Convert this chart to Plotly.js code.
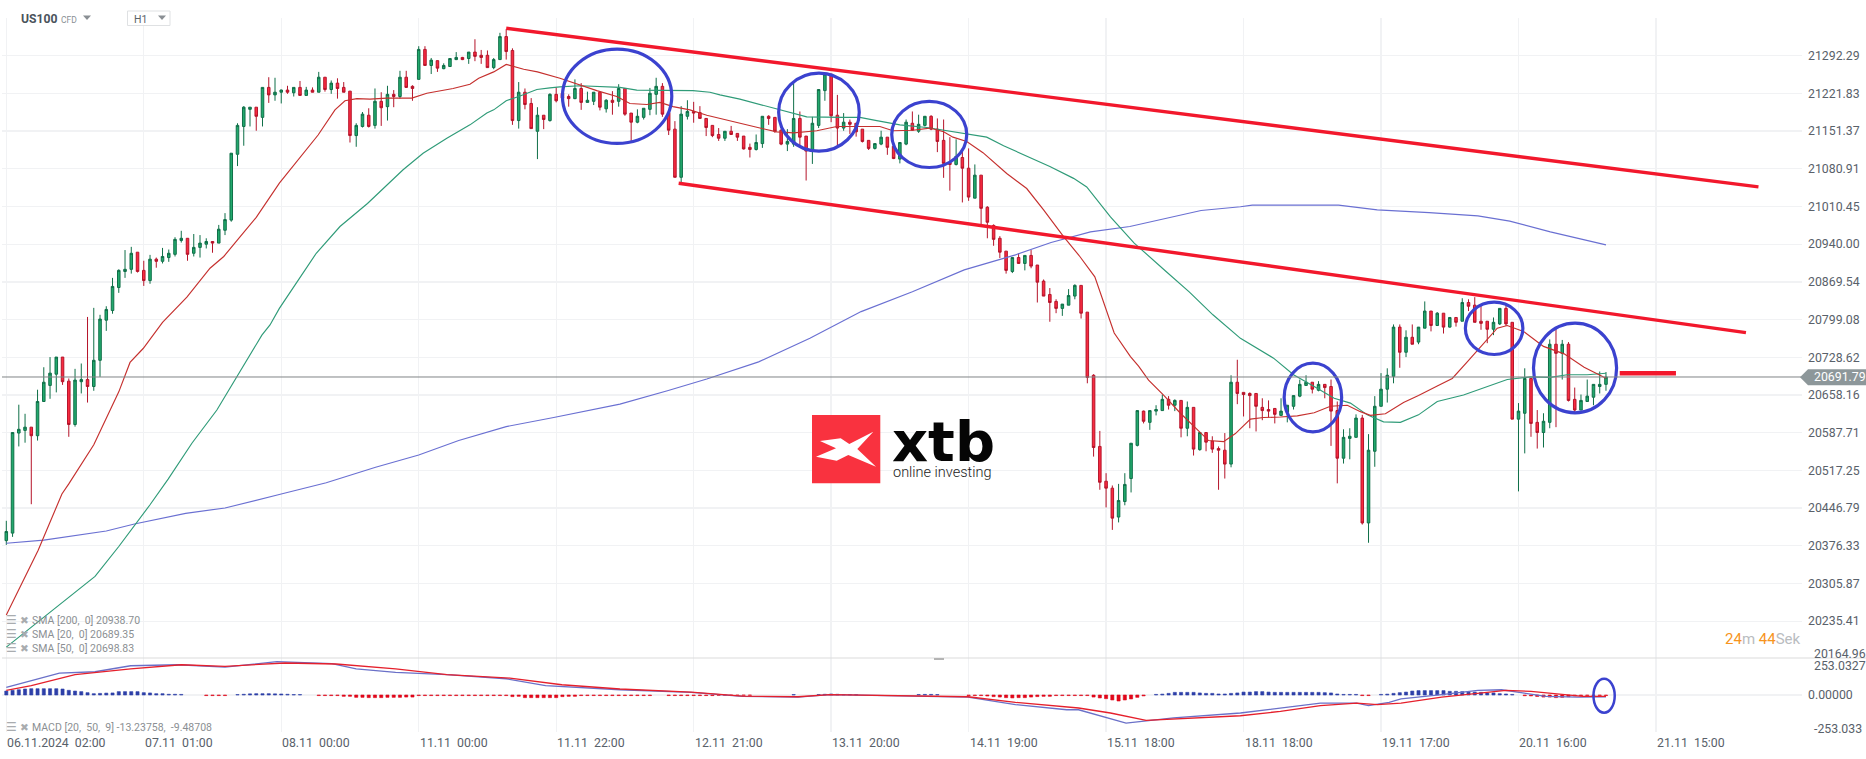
<!DOCTYPE html>
<html><head><meta charset="utf-8">
<script src="https://cdn.plot.ly/plotly-3.0.1.min.js"></script>
<style>html,body{margin:0;padding:0;background:#fff;overflow:hidden}#c{width:1866px;height:759px}</style>
</head><body><div id="c"></div>
<script>
const opens=[20386,20400,20587,20592,20598,20582,20646,20676,20697,20729,
20684,20603,20683,20687,20674,20723,20798,20816,20859,20889,
20893,20925,20891,20872,20912,20908,20915,20921,20947,20951,
20923,20934,20940,20945,20942,20966,20985,21108,21160,21192,
21196,21177,21233,21219,21224,21228,21223,21233,21218,21228,
21224,21252,21229,21241,21233,21226,21143,21160,21181,21162,
21207,21197,21220,21216,21252,21235,21248,21304,21274,21283,
21268,21272,21285,21289,21287,21299,21293,21293,21270,21285,
21328,21302,21171,21224,21203,21151,21181,21171,21220,21222,
21216,21212,21231,21205,21207,21224,21193,21209,21207,21231,
21185,21168,21177,21192,21220,21235,21186,21155,21065,21179,
21188,21186,21175,21162,21145,21138,21151,21147,21142,21121,
21117,21128,21179,21177,21153,21127,21127,21175,21142,21114,
21162,21227,21258,21181,21157,21168,21166,21155,21134,21119,
21127,21140,21123,21099,21127,21166,21151,21162,21179,21155,
21134,21092,21089,21102,21082,21026,21069,21009,20975,20951,
20927,20889,20915,20904,20919,20901,20871,20846,20833,20820,
20826,20843,20863,20813,20695,20562,20497,20484,20430,20459,
20502,20564,20628,20607,20628,20629,20650,20639,20648,20596,
20635,20556,20588,20572,20558,20555,20529,20682,20663,20661,
20661,20635,20631,20633,20620,20626,20637,20656,20676,20682,
20667,20678,20674,20629,20540,20577,20579,20615,20419,20553,
20637,20669,20693,20785,20738,20766,20757,20783,20815,20788,
20811,20785,20803,20796,20831,20826,20796,20796,20781,20791,
20820,20794,20613,20624,20689,20607,20588,20607,20753,20736,
20753,20650,20630,20646,20654,20674,20678];
const highs=[20423,20588,20640,20623,20598,20668,20710,20729,20729,20729,
20689,20707,20717,20804,20821,20808,20824,20877,20893,20929,
20935,20925,20909,20920,20915,20933,20930,20953,20965,20951,
20959,20957,20951,20945,20976,20998,21110,21166,21198,21196,
21196,21233,21252,21251,21229,21236,21233,21245,21234,21233,
21262,21252,21246,21250,21243,21226,21166,21187,21194,21231,
21224,21236,21228,21264,21264,21237,21310,21310,21288,21283,
21278,21287,21299,21290,21299,21323,21303,21302,21288,21335,
21342,21306,21243,21231,21213,21196,21181,21222,21233,21222,
21220,21248,21241,21225,21224,21224,21211,21226,21239,21231,
21185,21192,21194,21232,21251,21241,21186,21170,21198,21209,
21206,21198,21175,21162,21157,21151,21161,21147,21142,21128,
21145,21179,21181,21177,21155,21155,21243,21188,21142,21178,
21229,21258,21258,21219,21185,21173,21166,21155,21134,21128,
21152,21140,21123,21130,21173,21188,21182,21179,21181,21175,
21173,21140,21136,21119,21119,21089,21069,21011,20977,20955,
20927,20915,20923,20919,20929,20901,20874,20858,20837,20828,
20856,20865,20863,20813,20697,20591,20512,20489,20492,20512,
20568,20629,20629,20629,20639,20659,20656,20650,20648,20646,
20635,20588,20588,20581,20562,20587,20695,20724,20663,20663,
20661,20652,20648,20633,20652,20639,20657,20687,20695,20682,
20684,20678,20687,20646,20594,20596,20622,20621,20585,20656,
20699,20708,20790,20790,20779,20790,20785,20833,20815,20813,
20811,20803,20803,20839,20837,20841,20826,20796,20803,20820,
20826,20794,20643,20708,20689,20630,20624,20762,20781,20761,
20757,20672,20659,20687,20678,20702,20701];
const lows=[20378,20393,20562,20569,20454,20573,20646,20651,20663,20677,
20580,20599,20661,20644,20666,20692,20778,20810,20849,20877,
20885,20887,20862,20866,20896,20904,20907,20917,20943,20909,
20917,20915,20932,20924,20942,20957,20982,21086,21124,21160,
21152,21160,21204,21208,21203,21221,21216,21218,21218,21224,
21224,21225,21221,21212,21224,21130,21122,21158,21158,21156,
21161,21171,21196,21212,21232,21208,21248,21274,21258,21262,
21267,21272,21284,21284,21277,21282,21277,21270,21267,21285,
21285,21163,21156,21192,21156,21099,21155,21169,21205,21213,
21197,21211,21191,21205,21200,21190,21186,21182,21197,21180,
21130,21166,21173,21181,21182,21178,21144,21065,21056,21173,
21167,21175,21142,21140,21133,21133,21144,21133,21117,21102,
21115,21120,21163,21148,21125,21114,21122,21121,21059,21090,
21157,21208,21168,21124,21152,21146,21141,21130,21116,21117,
21125,21107,21099,21091,21125,21152,21148,21160,21153,21112,
21064,21040,21087,21018,21021,21026,20977,20951,20937,20914,
20885,20886,20903,20891,20895,20831,20843,20795,20811,20806,
20826,20837,20801,20680,20543,20481,20448,20406,20420,20452,
20476,20562,20605,20593,20620,20629,20631,20628,20579,20581,
20545,20554,20553,20550,20481,20502,20523,20641,20618,20596,
20590,20611,20616,20605,20620,20607,20631,20654,20676,20661,
20665,20652,20563,20493,20530,20538,20579,20416,20382,20524,
20637,20644,20680,20709,20729,20753,20753,20783,20777,20787,
20773,20784,20786,20796,20815,20794,20780,20755,20770,20789,
20787,20613,20478,20549,20580,20558,20560,20596,20598,20687,
20646,20624,20630,20646,20639,20661,20666];
const closes=[20403,20588,20594,20598,20582,20646,20682,20699,20729,20683,
20603,20686,20687,20674,20723,20800,20818,20861,20891,20893,
20923,20889,20872,20912,20908,20917,20923,20949,20951,20921,
20934,20942,20945,20942,20968,20986,21110,21162,21196,21196,
21179,21233,21219,21224,21228,21224,21233,21218,21228,21224,
21252,21229,21241,21231,21224,21143,21162,21183,21160,21207,
21195,21220,21216,21252,21233,21231,21304,21274,21284,21269,
21274,21287,21289,21285,21299,21291,21289,21270,21285,21328,
21300,21171,21224,21201,21156,21181,21173,21220,21208,21213,
21212,21231,21205,21209,21224,21196,21209,21205,21231,21183,
21168,21179,21194,21222,21235,21183,21153,21065,21183,21188,
21185,21175,21158,21143,21138,21151,21145,21140,21118,21117,
21130,21179,21175,21151,21127,21132,21175,21140,21114,21166,
21229,21258,21180,21157,21168,21164,21150,21132,21119,21128,
21140,21121,21100,21130,21168,21153,21164,21179,21155,21132,
21091,21089,21104,21082,21028,21069,21007,20981,20949,20925,
20891,20915,20904,20919,20899,20869,20843,20831,20820,20828,
20844,20863,20811,20691,20560,20495,20484,20428,20461,20491,
20568,20629,20609,20629,20631,20650,20639,20648,20596,20635,
20557,20588,20570,20557,20555,20529,20682,20661,20659,20657,
20637,20629,20628,20622,20628,20639,20657,20678,20682,20669,
20678,20672,20628,20540,20579,20581,20615,20419,20555,20637,
20669,20695,20785,20738,20766,20753,20785,20815,20788,20811,
20785,20803,20794,20831,20824,20794,20792,20781,20794,20820,
20791,20613,20628,20689,20605,20588,20609,20753,20736,20753,
20648,20630,20648,20656,20678,20678,20691.79];

const sma20Idx=[0,5.1,8.9,10,14,18,19.8,21.9,25,28.9,32.6,34.8,37,40,43.7,45.4,47.5,49.9,52.6,54.2,56.1,58.2,60.9,64.9,67.3,69.4,71.5,74.2,75.6,78,80,82.8,85,88.6,91.8,94.5,97.7,99.8,102.5,104.6,106.7,109.4,112.1,115.3,118,120.6,123.3,126,129.7,132.9,135.5,139.8,141.9,145.1,147.8,150,151.5,153.7,156.3,160.1,163.3,166,169.2,171.8,174.2,177.3,179.9,181.2,182.8,185.2,187.9,190.6,192.4,194.8,196.7,199.1,201.2,203.9,206.6,209.3,211.9,214.6,216.7,218.3,220.7,223.6,226,229,231.4,233.8,236.4,238.6,240.2,242.8,246,249.3,252.5,255.4,256];
const sma20Val=[20247,20368,20473,20492,20565,20664,20719,20745,20794,20841,20895,20917,20948,20990,21054,21079,21110,21144,21191,21208,21212,21211,21213,21213,21222,21227,21231,21239,21250,21262,21276,21267,21262,21250,21237,21227,21216,21203,21201,21205,21197,21191,21181,21172,21163,21157,21150,21148,21152,21160,21160,21160,21152,21153,21157,21150,21140,21132,21111,21072,21044,21004,20954,20917,20879,20774,20730,20712,20686,20658,20624,20593,20573,20571,20586,20613,20616,20617,20619,20625,20637,20639,20627,20620,20623,20644,20657,20675,20689,20720,20755,20783,20788,20777,20749,20735,20710,20694,20689.35];
const sma50Idx=[0,10,14.2,18,23,25.9,29.7,33.7,36.9,39,40.9,42.2,43.7,49.6,53.4,57.8,62.3,63.5,66.7,70.5,74.2,76.9,78,80,82,84.9,87,88.6,91.8,98.2,100.9,105.1,109.9,112.6,114.2,117.4,120.6,124.4,128.1,133.9,136.6,139.3,143,147.3,151.5,156.9,159.6,163.3,167,170.8,172.9,176.7,180.5,185.6,189.3,193.1,197.5,202.8,206,209.3,212.5,215.1,217.8,220.4,223.1,226,229,233.2,236.4,240.2,243.9,247.1,249.8,253,256];
const sma50Val=[20187,20279,20319,20375,20453,20501,20568,20630,20692,20733,20770,20789,20820,20923,20973,21016,21066,21079,21110,21138,21163,21185,21191,21208,21216,21229,21232,21234,21236,21233,21228,21227,21227,21224,21219,21211,21201,21189,21178,21177,21177,21171,21163,21158,21150,21140,21124,21105,21085,21063,21047,20991,20942,20889,20851,20808,20764,20727,20696,20674,20652,20643,20621,20608,20607,20621,20646,20658,20671,20687,20692,20691,20696,20696,20698.83];
const sma200Idx=[0,6,16,20.5,28.7,35,44,51.2,59.1,66,72.4,80,87.6,98.2,105.8,112.1,120.4,128.6,136.8,145,153.3,161.5,167.2,173.5,179.8,186.8,191.2,197.5,199.4,213.2,219.4,227.7,235.5,240.6,247.1,256];
const sma200Val=[20381,20387,20404,20417,20437,20447,20473,20494,20523,20546,20573,20599,20616,20641,20666,20688,20720,20764,20814,20851,20892,20920,20943,20963,20973,20991,21003,21010,21013,21013,21004,20999,20993,20983,20963,20938.7];

const macdIdx=[0,4,8.5,14.2,19.9,27.5,35,43.3,52.1,56,62.3,70.5,80,86.3,98.2,109.6,117.8,126.7,131.8,153.9,161.5,169.7,171.6,179.2,186.8,197.5,203.9,210.3,216.1,218,221.3,223.2,229.7,235.5,239.3,242.6,246.4,251.5,256];
const macdVal=[52,100,150,159,200,207,191,228,214,178,155,139,111,64,36,18,-10,-14,2,-14,-66,-101,-101,-192,-157,-123,-89,-55,-55,-73,-50,-27,2,31,36,14,-10,-14,-13.24];
const signalIdx=[0,4,11,19.9,28,35,44.6,52.8,62.3,70.5,80.6,88.9,98.2,109.6,117.8,126.7,131.8,153.9,161.5,171.6,176.7,182.4,197.5,203.9,210.3,216.1,219.4,223.2,229.7,235.5,240,244,249,252.3,256];
const signalVal=[31,64,139,178,207,196,219,212,178,139,116,70,41,20,-8,-12,3,-12,-50,-89,-123,-174,-142,-112,-73,-55,-66,-55,-14,14,31,25,2,-10,-9.49];
const histVal=[27,32,36,41,43,43,43,43,43,41,
32,27,23,16,9,11,13,14,23,23,
23,23,16,14,9,9,5,5,4,0,
0,0,-4,-4,-4,-4,0,3,5,8,
9,9,9,8,7,5,3,3,0,0,
-4,-4,-4,-4,-9,-9,-16,-16,-18,-18,
-18,-16,-16,-16,-14,-14,-4,-4,-4,-4,
-4,-4,-4,-4,-4,-4,-4,-4,-4,-4,
-4,-11,-9,-18,-18,-18,-18,-18,-18,-11,
-9,-9,-4,-4,-4,-4,-4,-4,-4,-4,
-4,-4,-4,-4,0,0,-4,-4,-4,-4,
-4,-4,-4,-4,-2,-2,-2,-2,-2,-2,
0,0,0,0,0,0,3,0,0,0,
3,5,7,5,3,3,2,0,0,0,
0,0,0,0,0,0,3,4,4,3,
0,0,0,0,-4,-4,-4,-7,-11,-14,
-18,-20,-18,-18,-14,-11,-9,-9,-4,-4,
-4,-4,-4,-4,-14,-20,-25,-34,-41,-34,
-27,-16,-6,0,4,6,11,18,18,18,
18,14,11,11,7,7,11,14,20,20,
23,23,20,18,18,18,18,18,18,18,
18,16,14,7,4,4,4,-4,-4,0,
4,6,11,16,20,27,30,30,30,30,
30,25,25,23,20,20,18,14,14,9,
7,4,0,-5,-6,-10,-14,-14,-18,-16,
-12,-6,-5,-3,-3,-3,-4];

const priceTicks=[21292.29,21221.83,21151.37,21080.91,21010.45,20940.00,20869.54,20799.08,20728.62,20658.16,20587.71,20517.25,20446.79,20376.33,20305.87,20235.41];
const timeTickIdx=[0,22,44,66,88,110,132,154,176,198,220,242,264];
const timeTickText=["06.11.2024  02:00","07.11  01:00","08.11  00:00","11.11  00:00","11.11  22:00","12.11  21:00","13.11  20:00","14.11  19:00","15.11  18:00","18.11  18:00","19.11  17:00","20.11  16:00","21.11  15:00"];
const lastPrice=20691.79;
const upperChannelIdx=[80,280.4], upperChannelVal=[21343.5,21047];
const lowerChannelIdx=[107.6,278.4], lowerChannelVal=[21053.8,20774.6];
const flatLevelIdx=[258.2,267.2], flatLevelVal=[20698.7,20698.7];
const circleIdx0=[89,123.6,141.7,204.5,233.5,244.4], circleIdx1=[106.5,136.5,153.7,213.7,242.7,257.7];
const circleLow=[21128.2,21113.8,21083.3,20589.3,20733.8,20624.9], circleHigh=[21304.4,21259.6,21206.7,20717.6,20831.6,20792.3];
const legendLines=[["SMA [200,  0] 20938.70",620.7],["SMA [20,  0] 20689.35",634.7],["SMA [50,  0] 20698.83",648.7],["MACD [20,  50,  9] -13.23758,  -9.48708",727.7]];

const W=1866,H=759;
const FONT='Roboto,sans-serif';
const px=x=>x/W, py=y=>1-y/H;
const idx=opens.map((_,i)=>i);
const xRange=[-0.688,287.37];
const nb=s=>s.replace(/ /g,'\u00a0');
const GRID='#f1f2f4', AXC='#59616a';

const lineTrace=(x,y,color,width,xa,ya)=>({type:'scatter',mode:'lines',x,y,xaxis:xa||'x',yaxis:ya||'y',hoverinfo:'skip',line:{color,width,shape:'linear'}});
const histColor=v=>v>=0?'#2d3fa8':'#e0061a';

const traces=[
 {type:'candlestick',x:idx,open:opens,high:highs,low:lows,close:closes,xaxis:'x',yaxis:'y',hoverinfo:'skip',whiskerwidth:0,
  increasing:{line:{color:'#0f6f48',width:1},fillcolor:'#22a96d'},
  decreasing:{line:{color:'#b5142a',width:1},fillcolor:'#f92b40'}},
 lineTrace(sma200Idx,sma200Val,'#6a70d2',1.15),
 lineTrace(sma50Idx,sma50Val,'#2f9b78',1.15),
 lineTrace(sma20Idx,sma20Val,'#c5302e',1.15),
 lineTrace(upperChannelIdx,upperChannelVal,'#f2182c',3.4),
 lineTrace(lowerChannelIdx,lowerChannelVal,'#f2182c',3.4),
 lineTrace(flatLevelIdx,flatLevelVal,'#f2182c',4.5),
 {type:'bar',x:idx,y:histVal.map(v=>v===0?null:v),xaxis:'x2',yaxis:'y2',width:0.5,hoverinfo:'skip',
  marker:{color:histVal.map(histColor),line:{color:histVal.map(histColor),width:0.6}}},
 lineTrace(macdIdx,macdVal,'#6a70c8',1.3,'x2','y2'),
 lineTrace(signalIdx,signalVal,'#e5202c',1.3,'x2','y2')
];

const poly=pts=>'M'+pts.map(p=>px(p[0])+','+py(p[1])).join(' L')+' Z';
const shapes=[];
circleIdx0.forEach((_,k)=>shapes.push({type:'circle',xref:'x',yref:'y',x0:circleIdx0[k],x1:circleIdx1[k],y0:circleLow[k],y1:circleHigh[k],line:{color:'#3b42cf',width:3.2},layer:'above'}));
shapes.push({type:'circle',xref:'x2',yref:'y2',x0:254,x1:257.4,y0:-121,y1:110.8,line:{color:'#3b42cf',width:2.5},layer:'above'});
// current price line + tag
shapes.push({type:'line',xref:'paper',yref:'y',x0:px(2),x1:px(1802),y0:lastPrice,y1:lastPrice,line:{color:'#808487',width:1},layer:'above'});
shapes.push({type:'path',xref:'paper',yref:'paper',path:poly([[1800,377.3],[1808,369.3],[1866,369.3],[1866,385.3],[1808,385.3]]),fillcolor:'#8d979a',line:{width:0},layer:'above'});
// pane divider and handle
shapes.push({type:'line',xref:'paper',yref:'paper',x0:px(2),x1:1,y0:py(658),y1:py(658),line:{color:'#dcdcdc',width:1.2}});
shapes.push({type:'rect',xref:'paper',yref:'paper',x0:px(934),x1:px(944),y0:py(660),y1:py(658),fillcolor:'#b4b4b4',line:{width:0}});
// instrument selector box and dropdown triangles
shapes.push({type:'rect',xref:'paper',yref:'paper',x0:px(127.5),x1:px(170),y0:py(25.5),y1:py(11),fillcolor:'#ffffff',line:{color:'#dfe1e3',width:1}});
shapes.push({type:'path',xref:'paper',yref:'paper',path:poly([[83,15.5],[91,15.5],[87,20]]),fillcolor:'#8a8f94',line:{width:0}});
shapes.push({type:'path',xref:'paper',yref:'paper',path:poly([[158,15.5],[166,15.5],[162,20]]),fillcolor:'#8a8f94',line:{width:0}});
// XTB logo mark
shapes.push({type:'rect',xref:'paper',yref:'paper',x0:px(812),x1:px(880.3),y0:py(483.3),y1:py(415),fillcolor:'#f9323f',line:{width:0},layer:'above'});
shapes.push({type:'path',xref:'paper',yref:'paper',path:poly([[820,441],[840.7,438.3],[849.3,444],[873.3,431.7],[857.3,449],[876,466.7],[848.3,455],[836.7,460.7],[816,456.7],[836,448.3]]),fillcolor:'#ffffff',line:{width:0},layer:'above'});

const anno=(x,y,text,o={})=>Object.assign({xref:'paper',yref:'paper',x:px(x),y:py(y),text,showarrow:false,xanchor:'left',yanchor:'middle',borderpad:0,captureevents:false,
  font:{family:FONT,size:12.3,color:AXC}},o);
const annotations=[];
timeTickIdx.forEach((t,k)=>annotations.push(anno(0,742.7,nb(timeTickText[k]),{xref:'x2',x:t})));
annotations.push(anno(1813,654.3,'20164.96'));
annotations.push(anno(1813,666,'253.0327'));
annotations.push(anno(1813,729,'-253.033'));
annotations.push(anno(1813,377.3,lastPrice.toFixed(2),{font:{family:FONT,size:12.3,color:'#ffffff'}}));
legendLines.forEach(l=>{
  annotations.push(anno(31,l[1],nb(l[0]),{font:{family:FONT,size:10.5,color:'#8b8f93'}}));
  annotations.push(anno(5,l[1]-1,'\u2630',{font:{family:'DejaVu Sans',size:12,color:'#a9acaf'}}));
  annotations.push(anno(18.5,l[1]-1,'\u2716',{font:{family:'DejaVu Sans',size:10.5,color:'#a9acaf'}}));
});
annotations.push(anno(20,19,'US100',{font:{family:FONT,size:12.2,color:'#4b535c',weight:700}}));
annotations.push(anno(60,20,'CFD',{font:{family:FONT,size:8.5,color:'#8a8f94'}}));
annotations.push(anno(133,19.5,'H1',{font:{family:FONT,size:10.5,color:'#5d646b'}}));
annotations.push(anno(1802,639,'<span style="color:#f7941d">24</span><span style="color:#b9bcbf">m</span> <span style="color:#f7941d">44</span><span style="color:#b9bcbf">Sek</span>',{xanchor:'right',font:{family:FONT,size:15,color:'#b9bcbf'}}));
annotations.push(anno(891,441,'xtb',{font:{family:'DejaVu Sans',size:56,color:'#050505',weight:700}}));
annotations.push(anno(892,472,'online investing',{font:{family:'Roboto',size:14.5,color:'#222222',weight:300}}));

const layout={
  width:W,height:H,margin:{l:0,r:0,t:0,b:0,pad:0},paper_bgcolor:'#ffffff',plot_bgcolor:'#ffffff',showlegend:false,
  boxgap:0.42,bargap:0,hovermode:false,dragmode:false,
  xaxis:{domain:[px(2),px(1802)],range:xRange,anchor:'y',type:'linear',rangeslider:{visible:false},tickmode:'array',tickvals:timeTickIdx,showticklabels:false,ticks:'',showgrid:true,gridcolor:GRID,gridwidth:1.3,zeroline:false,showline:false},
  xaxis2:{domain:[px(2),px(1802)],range:xRange,anchor:'y2',type:'linear',tickmode:'array',tickvals:timeTickIdx,showticklabels:false,ticks:'',showgrid:true,gridcolor:GRID,gridwidth:1.3,zeroline:false,showline:false},
  yaxis:{domain:[py(658),py(18)],range:[20166.6,21362.7],anchor:'x',side:'right',tickmode:'array',tickvals:priceTicks,ticktext:priceTicks.map(v=>v.toFixed(2)),ticks:'',ticklabelstandoff:5,showgrid:true,gridcolor:GRID,gridwidth:1.3,zeroline:false,showline:false,tickfont:{family:FONT,size:12.3,color:AXC}},
  yaxis2:{domain:[py(732),py(658)],range:[-253.0327,253.0327],anchor:'x2',side:'right',tickmode:'array',tickvals:[0,-253.0327],ticktext:['0.00000',' '],ticks:'',ticklabelstandoff:5,showgrid:true,gridcolor:GRID,gridwidth:1.3,zeroline:false,showline:false,tickfont:{family:FONT,size:12.3,color:AXC}},
  shapes,annotations
};
Plotly.newPlot('c',traces,layout,{displayModeBar:false,staticPlot:true});
</script></body></html>
